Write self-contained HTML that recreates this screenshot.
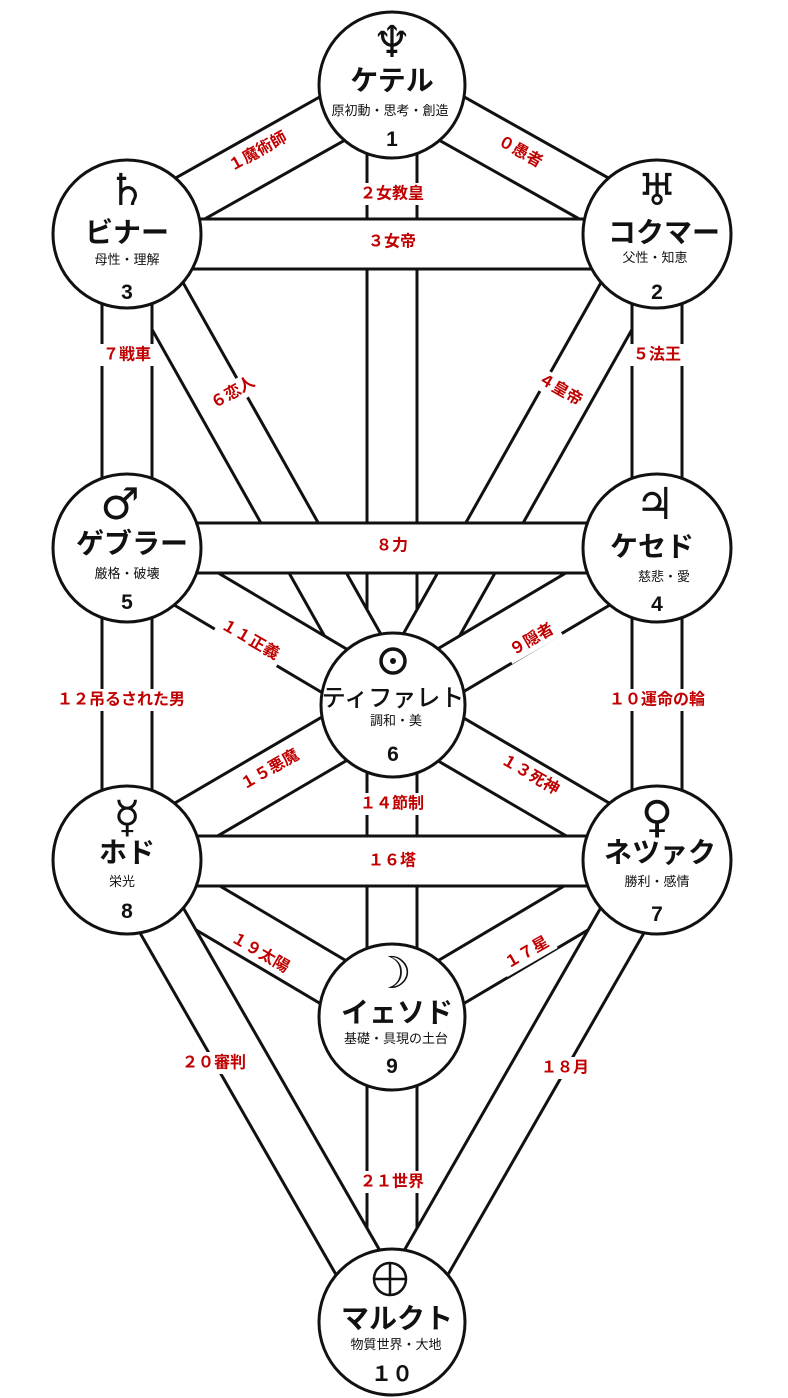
<!DOCTYPE html>
<html><head><meta charset="utf-8"><style>
html,body{margin:0;padding:0;background:#fff}
svg{display:block}
text{font-family:"Liberation Sans","Noto Sans CJK JP",sans-serif}
.lb{fill:#c00000;font-weight:bold;font-size:16px;text-anchor:middle;dominant-baseline:central}
.nm{font-weight:bold;font-size:28px;text-anchor:middle}
.sb{font-size:13px;text-anchor:middle}
.nu{font-size:21px;text-anchor:middle;font-weight:bold}
.sy{font-family:"DejaVu Sans",sans-serif;font-size:44px;text-anchor:middle}
</style></head><body>
<svg width="788" height="1398" viewBox="0 0 788 1398" xmlns="http://www.w3.org/2000/svg">
<g stroke-linecap="butt">
<line x1="392" y1="85" x2="392" y2="705" stroke="#111" stroke-width="53"/><line x1="392" y1="85" x2="392" y2="705" stroke="#fff" stroke-width="47"/>
<line x1="392" y1="85" x2="127" y2="234" stroke="#111" stroke-width="53"/><line x1="392" y1="85" x2="127" y2="234" stroke="#fff" stroke-width="47"/>
<line x1="392" y1="85" x2="657" y2="234" stroke="#111" stroke-width="53"/><line x1="392" y1="85" x2="657" y2="234" stroke="#fff" stroke-width="47"/>
<line x1="127" y1="234" x2="392" y2="705" stroke="#111" stroke-width="53"/><line x1="127" y1="234" x2="392" y2="705" stroke="#fff" stroke-width="47"/>
<line x1="657" y1="234" x2="392" y2="705" stroke="#111" stroke-width="53"/><line x1="657" y1="234" x2="392" y2="705" stroke="#fff" stroke-width="47"/>
<line x1="127" y1="234" x2="127" y2="860" stroke="#111" stroke-width="53"/><line x1="127" y1="234" x2="127" y2="860" stroke="#fff" stroke-width="47"/>
<line x1="657" y1="234" x2="657" y2="860" stroke="#111" stroke-width="53"/><line x1="657" y1="234" x2="657" y2="860" stroke="#fff" stroke-width="47"/>
<line x1="127" y1="548" x2="392" y2="705" stroke="#111" stroke-width="53"/><line x1="127" y1="548" x2="392" y2="705" stroke="#fff" stroke-width="47"/>
<line x1="657" y1="548" x2="392" y2="705" stroke="#111" stroke-width="53"/><line x1="657" y1="548" x2="392" y2="705" stroke="#fff" stroke-width="47"/>
<line x1="127" y1="860" x2="392" y2="705" stroke="#111" stroke-width="53"/><line x1="127" y1="860" x2="392" y2="705" stroke="#fff" stroke-width="47"/>
<line x1="657" y1="860" x2="392" y2="705" stroke="#111" stroke-width="53"/><line x1="657" y1="860" x2="392" y2="705" stroke="#fff" stroke-width="47"/>
<line x1="392" y1="705" x2="392" y2="1322" stroke="#111" stroke-width="53"/><line x1="392" y1="705" x2="392" y2="1322" stroke="#fff" stroke-width="47"/>
<line x1="127" y1="860" x2="392" y2="1017" stroke="#111" stroke-width="53"/><line x1="127" y1="860" x2="392" y2="1017" stroke="#fff" stroke-width="47"/>
<line x1="657" y1="860" x2="392" y2="1017" stroke="#111" stroke-width="53"/><line x1="657" y1="860" x2="392" y2="1017" stroke="#fff" stroke-width="47"/>
<line x1="127" y1="860" x2="392" y2="1322" stroke="#111" stroke-width="53"/><line x1="127" y1="860" x2="392" y2="1322" stroke="#fff" stroke-width="47"/>
<line x1="657" y1="860" x2="392" y2="1322" stroke="#111" stroke-width="53"/><line x1="657" y1="860" x2="392" y2="1322" stroke="#fff" stroke-width="47"/>
<line x1="127" y1="244" x2="657" y2="244" stroke="#111" stroke-width="53"/><line x1="127" y1="244" x2="657" y2="244" stroke="#fff" stroke-width="47"/>
<line x1="127" y1="548" x2="657" y2="548" stroke="#111" stroke-width="53"/><line x1="127" y1="548" x2="657" y2="548" stroke="#fff" stroke-width="47"/>
<line x1="127" y1="861" x2="657" y2="861" stroke="#111" stroke-width="53"/><line x1="127" y1="861" x2="657" y2="861" stroke="#fff" stroke-width="47"/>
</g>
<g>
<g transform="translate(258,152) rotate(-29)"><rect x="-36" y="-11" width="72" height="22" fill="#fff"/><text class="lb" x="0" y="0">１魔術師</text></g>
<g transform="translate(520,152) rotate(29)"><rect x="-28" y="-11" width="56" height="22" fill="#fff"/><text class="lb" x="0" y="0">０愚者</text></g>
<rect x="350" y="183" width="84" height="22" fill="#fff"/><text class="lb" x="392" y="194">２女教皇</text>
<text class="lb" x="392" y="242">３女帝</text>
<rect x="98" y="344" width="60" height="22" fill="#fff"/><text class="lb" x="127" y="355">７戦車</text>
<rect x="628" y="344" width="60" height="22" fill="#fff"/><text class="lb" x="657" y="355">５法王</text>
<g transform="translate(233,393) rotate(-30)"><rect x="-29" y="-11" width="58" height="22" fill="#fff"/><text class="lb" x="0" y="0">６恋人</text></g>
<g transform="translate(560,390) rotate(30)"><rect x="-29" y="-11" width="58" height="22" fill="#fff"/><text class="lb" x="0" y="0">４皇帝</text></g>
<text class="lb" x="392" y="546">８力</text>
<g transform="translate(250,640) rotate(30)"><rect x="-36" y="-11" width="72" height="22" fill="#fff"/><text class="lb" x="0" y="0">１１正義</text></g>
<g transform="translate(532,640) rotate(-30)"><rect x="-29" y="-11" width="58" height="22" fill="#fff"/><text class="lb" x="0" y="0">９隠者</text></g>
<rect x="46" y="689" width="150" height="22" fill="#fff"/><text class="lb" x="121" y="700">１２吊るされた男</text>
<rect x="600" y="689" width="114" height="22" fill="#fff"/><text class="lb" x="657" y="700">１０運命の輪</text>
<g transform="translate(270,770) rotate(-30)"><rect x="-36" y="-11" width="72" height="22" fill="#fff"/><text class="lb" x="0" y="0">１５悪魔</text></g>
<g transform="translate(530,775) rotate(30)"><rect x="-36" y="-11" width="72" height="22" fill="#fff"/><text class="lb" x="0" y="0">１３死神</text></g>
<rect x="354" y="793" width="76" height="22" fill="#fff"/><text class="lb" x="392" y="804">１４節制</text>
<text class="lb" x="392" y="861">１６塔</text>
<g transform="translate(260,953) rotate(30)"><rect x="-36" y="-11" width="72" height="22" fill="#fff"/><text class="lb" x="0" y="0">１９太陽</text></g>
<g transform="translate(527,953) rotate(-30)"><rect x="-29" y="-11" width="58" height="22" fill="#fff"/><text class="lb" x="0" y="0">１７星</text></g>
<rect x="176" y="1052" width="76" height="22" fill="#fff"/><text class="lb" x="214" y="1063">２０審判</text>
<rect x="536" y="1057" width="58" height="22" fill="#fff"/><text class="lb" x="565" y="1068">１８月</text>
<rect x="354" y="1171" width="76" height="22" fill="#fff"/><text class="lb" x="392" y="1182">２１世界</text>
</g>
<g fill="#fff" stroke="#111" stroke-width="3">
<circle cx="392" cy="85" r="73"/>
<circle cx="127" cy="234" r="74"/>
<circle cx="657" cy="234" r="74"/>
<circle cx="127" cy="548" r="74"/>
<circle cx="657" cy="548" r="74"/>
<circle cx="393" cy="705" r="72"/>
<circle cx="127" cy="860" r="74"/>
<circle cx="657" cy="860" r="74"/>
<circle cx="392" cy="1017" r="73"/>
<circle cx="392" cy="1322" r="73"/>
</g>
<g fill="#111">
<text class="sy" x="392" y="57">♆</text>
<text class="nm" x="392" y="90">ケテル</text>
<text class="sb" x="390" y="115">原初動・思考・創造</text>
<text class="nu" x="392" y="146">1</text>

<text class="sy" x="127" y="205">♄</text>
<text class="nm" x="127" y="242">ビナー</text>
<text class="sb" x="127" y="264">母性・理解</text>
<text class="nu" x="127" y="299">3</text>

<text class="sy" x="657" y="205">♅</text>
<text class="nm" x="664" y="242">コクマー</text>
<text class="sb" x="655" y="262">父性・知恵</text>
<text class="nu" x="657" y="299">2</text>

<text class="sy" x="120" y="519">♂</text>
<text class="nm" x="132" y="553">ゲブラー</text>
<text class="sb" x="127" y="578">厳格・破壊</text>
<text class="nu" x="127" y="609">5</text>

<text class="sy" x="655" y="519">♃</text>
<text class="nm" x="652" y="556">ケセド</text>
<text class="sb" x="664" y="581">慈悲・愛</text>
<text class="nu" x="657" y="611">4</text>

<circle cx="393" cy="661" r="12" fill="none" stroke="#111" stroke-width="3.5"/><circle cx="393" cy="661" r="3"/>
<text x="393" y="706" style="font-size:24px;text-anchor:middle;font-weight:500">ティファレト</text>
<text class="sb" x="396" y="725">調和・美</text>
<text class="nu" x="393" y="761">6</text>

<text class="sy" x="127" y="832">☿</text>
<text class="nm" x="127" y="862">ホド</text>
<text class="sb" x="122" y="886">栄光</text>
<text class="nu" x="127" y="918">8</text>

<text class="sy" x="657" y="832">♀</text>
<text class="nm" x="660" y="862">ネツァク</text>
<text class="sb" x="657" y="886">勝利・感情</text>
<text class="nu" x="657" y="921">7</text>

<text class="sy" x="392" y="988">☽</text>
<text class="nm" x="397" y="1022">イェソド</text>
<text class="sb" x="396" y="1043">基礎・具現の土台</text>
<text class="nu" x="392" y="1073">9</text>

<circle cx="390" cy="1279" r="16" fill="none" stroke="#111" stroke-width="2.5"/><line x1="374" y1="1279" x2="406" y2="1279" stroke="#111" stroke-width="2.5"/><line x1="390" y1="1263" x2="390" y2="1295" stroke="#111" stroke-width="2.5"/>
<text class="nm" x="397" y="1328">マルクト</text>
<text class="sb" x="396" y="1349">物質世界・大地</text>
<text class="nu" x="392" y="1381">１０</text>
</g>
</svg>
</body></html>
